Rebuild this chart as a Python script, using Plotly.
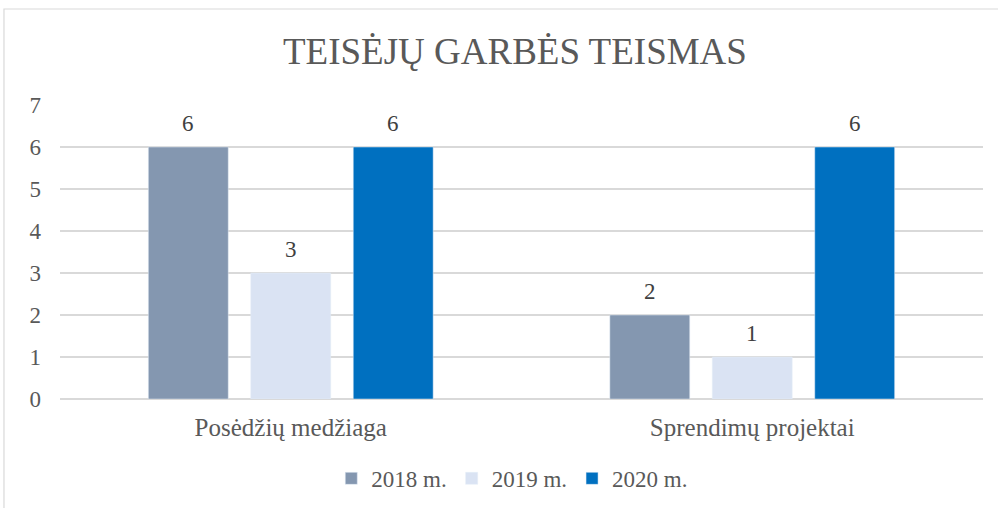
import plotly.graph_objects as go

categories = ["Posėdžių medžiaga", "Sprendimų projektai"]
series_names = ["2018 m.", "2019 m.", "2020 m."]
values_2018 = [6, 2]
values_2019 = [3, 1]
values_2020 = [6, 6]
colors = ["#8497B0", "#DAE3F3", "#0070C0"]
y_ticks = [0, 1, 2, 3, 4, 5, 6, 7]

FONT = "Liberation Serif"
BARGAP = 0.334
BARGROUPGAP = 0.22

fig = go.Figure()
all_vals = [values_2018, values_2019, values_2020]
for name, vals, col in zip(series_names, all_vals, colors):
    fig.add_trace(go.Bar(
        name=name, x=categories, y=vals, marker_color=col,
        hoverinfo="x+y+name",
    ))

# data labels above bars, positioned through the category axis
n = len(series_names)
slot = (1 - BARGAP) / n
for i, vals in enumerate(all_vals):
    off = (i - (n - 1) / 2) * slot
    for j, v in enumerate(vals):
        fig.add_annotation(x=j + off, y=v, xref="x", yref="y", text=str(v),
                           showarrow=False, yanchor="bottom", yshift=9,
                           font=dict(family=FONT, size=23, color="#404040"))

fig.update_layout(
    width=998, height=508,
    paper_bgcolor="white", plot_bgcolor="white",
    margin=dict(l=60, r=15, t=105, b=109, autoexpand=False),
    barmode="group", bargap=BARGAP, bargroupgap=BARGROUPGAP,
    title=dict(text="TEISĖJŲ GARBĖS TEISMAS", x=0.516, xanchor="center",
               y=0.9, yanchor="middle", yref="container",
               font=dict(family=FONT, size=37, color="#595959")),
    font=dict(family=FONT, size=22, color="#595959"),
    showlegend=True,
    legend=dict(orientation="h", x=0.49, xanchor="center", y=-0.27, yanchor="middle",
                font=dict(family=FONT, size=23, color="#595959"),
                itemwidth=30, traceorder="normal"),
)
fig.update_yaxes(range=[0, 7], tickvals=y_ticks, showgrid=True, gridcolor="#D9D9D9",
                 gridwidth=1.5, zeroline=True, zerolinecolor="#D9D9D9", zerolinewidth=1.5,
                 showline=False, ticks="", ticklabelstandoff=18, automargin=False,
                 tickfont=dict(family=FONT, size=23, color="#595959"), fixedrange=True)
fig.update_xaxes(showgrid=False, showline=False, ticks="", automargin=False,
                 ticklabelstandoff=11,
                 tickfont=dict(family=FONT, size=25, color="#595959"), fixedrange=True)

fig.add_shape(type="rect", xref="paper", yref="paper",
              x0=-0.0607, x1=1.04, y0=-0.42, y1=1.3265,
              line=dict(color="#D9D9D9", width=1.2), fillcolor="rgba(0,0,0,0)", layer="below")

fig.write_html("out.html", config={"displayModeBar": False},
               post_script="document.body.style.margin='0';document.body.style.overflow='hidden';")
